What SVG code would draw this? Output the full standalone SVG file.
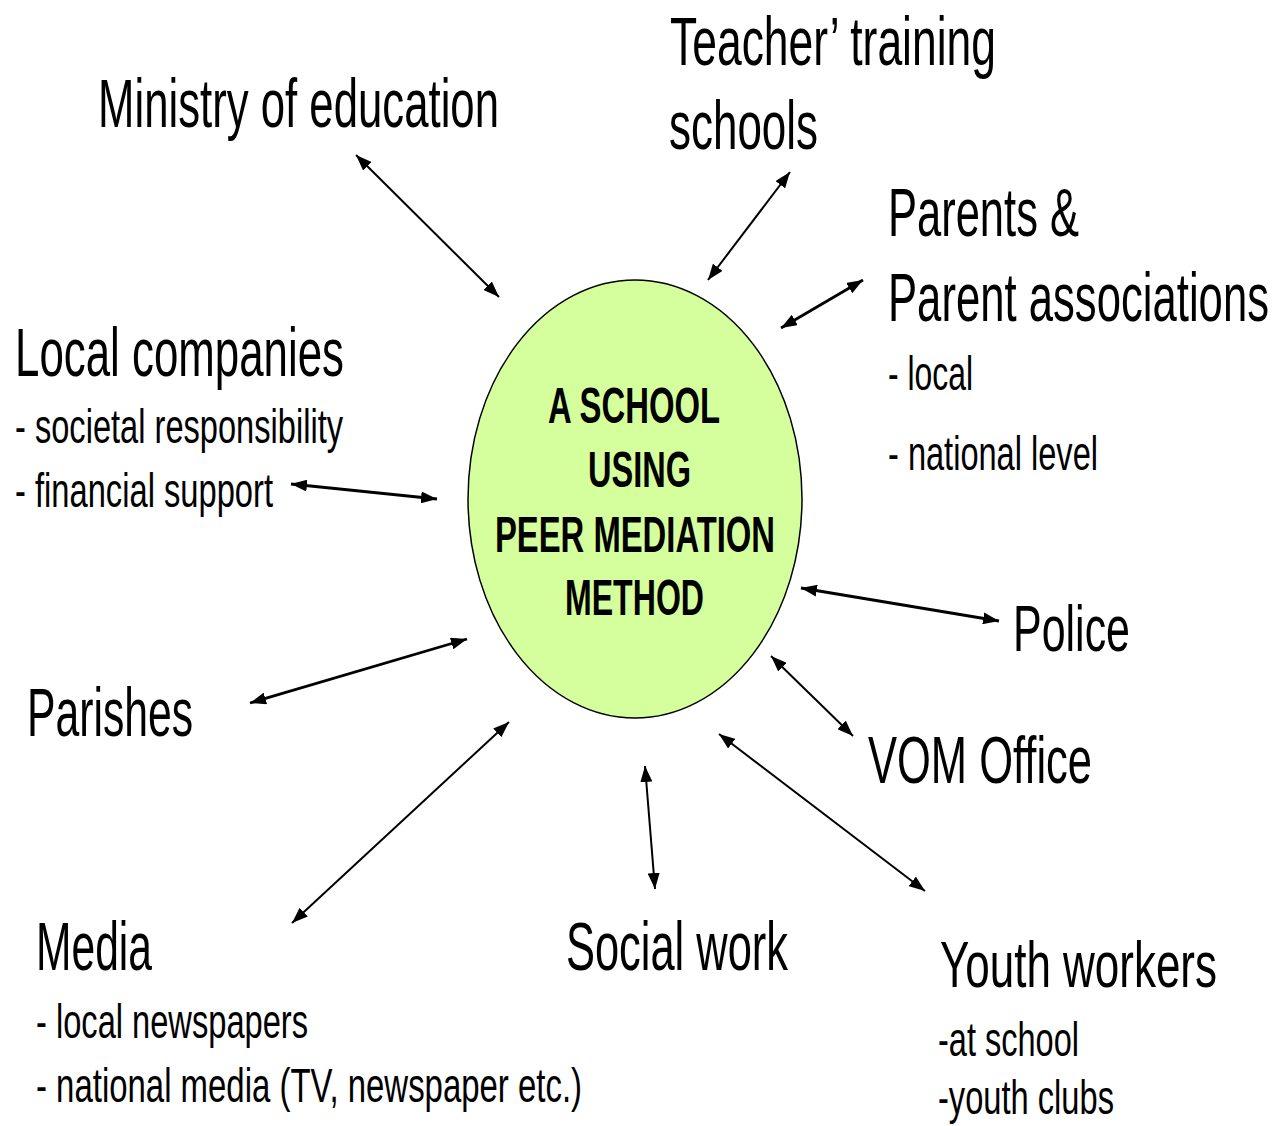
<svg xmlns="http://www.w3.org/2000/svg" width="1287" height="1126" viewBox="0 0 1287 1126">
<style>
  text { font-family: "Liberation Sans Narrow", "Liberation Sans", Arial, sans-serif; fill: #000; }
  .t { font-size: 68px; }
  .s { font-size: 49px; }
  .c { font-size: 50px; font-weight: bold; }
  .conn line { stroke: #000; stroke-width: 2; marker-start: url(#ah); marker-end: url(#ah); }
  .conn line.w { stroke-width: 2.8; }
</style>
<defs>
  <marker id="ah" markerUnits="userSpaceOnUse" markerWidth="16" markerHeight="12" refX="16" refY="6" orient="auto-start-reverse">
    <path d="M0,0 L16,6 L0,12 z" fill="#000"/>
  </marker>
</defs>
<rect width="1287" height="1126" fill="#fff"/>
<g id="center">
  <ellipse cx="635" cy="499" rx="167" ry="219" fill="#d4ff9c" stroke="#000" stroke-width="1.5"/>
  <text class="c" x="548" y="423" textLength="172" lengthAdjust="spacingAndGlyphs">A SCHOOL</text>
  <text class="c" x="588" y="487" textLength="103" lengthAdjust="spacingAndGlyphs">USING</text>
  <text class="c" x="495" y="552" textLength="280" lengthAdjust="spacingAndGlyphs">PEER MEDIATION</text>
  <text class="c" x="565" y="615" textLength="139" lengthAdjust="spacingAndGlyphs">METHOD</text>
</g>
<g id="ministry">
  <text class="t" x="98" y="127" textLength="401" lengthAdjust="spacingAndGlyphs">Ministry of education</text>
</g>
<g id="teacher">
  <text class="t" x="670" y="65" textLength="326" lengthAdjust="spacingAndGlyphs">Teacher’ training</text>
  <text class="t" x="669" y="149" textLength="149" lengthAdjust="spacingAndGlyphs">schools</text>
</g>
<g id="parents">
  <text class="t" x="888" y="236" textLength="191" lengthAdjust="spacingAndGlyphs">Parents &amp;</text>
  <text class="t" x="888" y="321" textLength="381" lengthAdjust="spacingAndGlyphs">Parent associations</text>
  <text class="s" x="888" y="390" textLength="85" lengthAdjust="spacingAndGlyphs">- local</text>
  <text class="s" x="888" y="470" textLength="210" lengthAdjust="spacingAndGlyphs">- national level</text>
</g>
<g id="companies">
  <text class="t" x="15" y="376" textLength="329" lengthAdjust="spacingAndGlyphs">Local companies</text>
  <text class="s" x="15" y="443" textLength="328" lengthAdjust="spacingAndGlyphs">- societal responsibility</text>
  <text class="s" x="15" y="507" textLength="258" lengthAdjust="spacingAndGlyphs">- financial support</text>
</g>
<g id="parishes">
  <text class="t" x="27" y="736" textLength="166" lengthAdjust="spacingAndGlyphs">Parishes</text>
</g>
<g id="police">
  <text class="t" x="1013" y="651" style="font-size:64px" textLength="117" lengthAdjust="spacingAndGlyphs">Police</text>
</g>
<g id="vom">
  <text class="t" x="868" y="783" style="font-size:67px" textLength="224" lengthAdjust="spacingAndGlyphs">VOM Office</text>
</g>
<g id="media">
  <text class="t" x="36" y="970" textLength="116" lengthAdjust="spacingAndGlyphs">Media</text>
  <text class="s" x="36" y="1038" textLength="272" lengthAdjust="spacingAndGlyphs">- local newspapers</text>
  <text class="s" x="36" y="1102" textLength="546" lengthAdjust="spacingAndGlyphs">- national media (TV, newspaper etc.)</text>
</g>
<g id="social">
  <text class="t" x="566" y="970" textLength="222" lengthAdjust="spacingAndGlyphs">Social work</text>
</g>
<g id="youth">
  <text class="t" x="940" y="987" style="font-size:65px" textLength="277" lengthAdjust="spacingAndGlyphs">Youth workers</text>
  <text class="s" x="938" y="1056" textLength="141" lengthAdjust="spacingAndGlyphs">-at school</text>
  <text class="s" x="938" y="1114" textLength="176" lengthAdjust="spacingAndGlyphs">-youth clubs</text>
</g>
<g id="connectors" class="conn">
  <line x1="356" y1="155" x2="499" y2="297"/>
  <line x1="790" y1="172" x2="708" y2="280"/>
  <line class="w" x1="863" y1="280" x2="781" y2="328"/>
  <line class="w" x1="291" y1="484" x2="437" y2="499"/>
  <line class="w" x1="467" y1="639" x2="250" y2="703"/>
  <line x1="509" y1="722" x2="292" y2="923"/>
  <line x1="645" y1="766" x2="655" y2="889"/>
  <line x1="719" y1="734" x2="925" y2="891"/>
  <line x1="771" y1="656" x2="853" y2="736"/>
  <line class="w" x1="801" y1="588" x2="999" y2="621"/>
</g>
</svg>
